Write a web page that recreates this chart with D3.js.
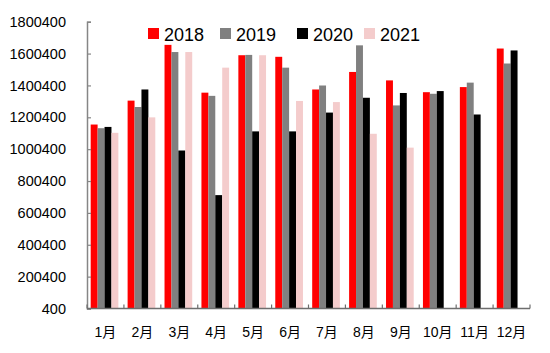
<!DOCTYPE html>
<html lang="zh">
<head>
<meta charset="UTF-8">
<title>Monthly bars 2018-2021</title>
<script src="https://d3js.org/d3.v7.min.js"></script>
<style>
  body { margin: 0; background: #fff; }
  svg text { font-family: "Liberation Sans", Arial, "Noto Sans CJK SC", sans-serif; fill: #000; }
</style>
</head>
<body>
<svg id="chart" width="550" height="353"></svg>
<script>
// data
let months = ['1月', '2月', '3月', '4月', '5月', '6月', '7月', '8月', '9月', '10月', '11月', '12月']
let years = ['2018', '2019', '2020', '2021']
let v2018 = [1155000, 1305000, 1655000, 1355000, 1590000, 1580000, 1375000, 1485000, 1432000, 1358000, 1390000, 1632000]
let v2019 = [1132000, 1265000, 1610000, 1335000, 1592000, 1512000, 1400000, 1652000, 1275000, 1348000, 1418000, 1538000]
let v2020 = [1140000, 1375000, 992000, 712000, 1112000, 1112000, 1230000, 1323000, 1353000, 1365000, 1218000, 1620000]
let v2021 = [1103000, 1200000, 1610000, 1512000, 1590000, 1303000, 1296000, 1097000, 1010000, null, null, null]
let yTicks = [400, 200400, 400400, 600400, 800400, 1000400, 1200400, 1400400, 1600400, 1800400]
let colors = ['#ff0000', '#808080', '#000000', '#f4cccc']

let series = [v2018, v2019, v2020, v2021]

let svg = d3.select('#chart')
let plotLeft = 87, plotRight = 530, plotTop = 21.7, plotBottom = 308.5

let y = d3.scaleLinear().domain([400, 1800400]).range([plotBottom, plotTop])
let x0 = d3.scaleBand().domain(months).range([plotLeft, plotRight])
    .paddingInner(0.25).paddingOuter(0.125).align(0.4)
let x1 = d3.scaleBand().domain(years).range([0, x0.bandwidth()])
let step = (plotRight - plotLeft) / months.length

// bars
months.forEach((m, i) => {
    let g = svg.append('g').attr('transform', `translate(${x0(m)},0)`)
    years.forEach((yr, j) => {
        let v = series[j][i]
        if (v == null) return
        g.append('rect')
            .attr('x', x1(yr))
            .attr('y', y(v))
            .attr('width', x1.bandwidth())
            .attr('height', y(400) - y(v))
            .attr('fill', colors[j])
    })
})

// y axis
let yAxis = svg.append('g')
    .attr('transform', `translate(${plotLeft},0)`)
    .call(d3.axisLeft(y).tickValues(yTicks).tickSize(-4).tickPadding(21).tickFormat(d => d))
yAxis.select('.domain').attr('stroke', '#868686').attr('stroke-width', 1.5)
yAxis.selectAll('.tick line').attr('stroke', '#868686').attr('stroke-width', 1.2)
yAxis.selectAll('.tick text').style('font-size', '14.5px')

// x axis
let xAxis = svg.append('g').attr('transform', `translate(0,${plotBottom})`)
xAxis.append('line')
    .attr('x1', plotLeft).attr('x2', plotRight)
    .attr('stroke', '#6e6e6e').attr('stroke-width', 1.5)
let bounds = d3.range(months.length + 1).map(i => plotLeft + i * step)
xAxis.selectAll('line.tk').data(bounds).enter().append('line')
    .attr('class', 'tk')
    .attr('x1', d => d).attr('x2', d => d)
    .attr('y1', 0).attr('y2', -4)
    .attr('stroke', '#6e6e6e').attr('stroke-width', 1.2)
xAxis.selectAll('text').data(months).enter().append('text')
    .attr('x', (d, i) => plotLeft + i * step + step / 2)
    .attr('y', 28)
    .attr('text-anchor', 'middle')
    .style('font-size', '14px')
    .text(d => d)

// legend
let legendX = [148, 220, 297, 364]
let legend = svg.append('g')
years.forEach((yr, j) => {
    legend.append('rect')
        .attr('x', legendX[j]).attr('y', 28)
        .attr('width', 11).attr('height', 11)
        .attr('fill', colors[j])
    legend.append('text')
        .attr('x', legendX[j] + 16).attr('y', 40.5)
        .style('font-size', '18px')
        .text(yr)
})
</script>
</body>
</html>
